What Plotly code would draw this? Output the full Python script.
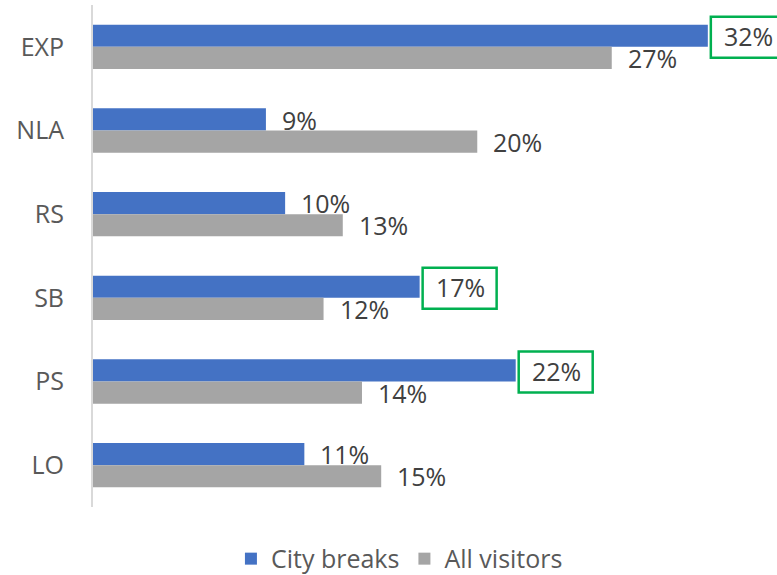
import plotly.graph_objects as go

categories = ["EXP", "NLA", "RS", "SB", "PS", "LO"]
city_breaks = [32, 9, 10, 17, 22, 11]
all_visitors = [27, 20, 13, 12, 14, 15]
highlighted = ["EXP", "SB", "PS"]

BLUE = "#4472C4"
GREY = "#A5A5A5"
FONT = "Open Sans"
LABEL_SIZE = 25

fig = go.Figure()
fig.add_trace(go.Bar(y=categories, x=city_breaks, orientation="h", name="City breaks",
                     marker=dict(color=BLUE, line=dict(width=0))))
fig.add_trace(go.Bar(y=categories, x=all_visitors, orientation="h", name="All visitors",
                     marker=dict(color=GREY, line=dict(width=0))))

# value labels just right of each bar end (blue sits above, grey below the category centre)
annotations = []
for cat, v in zip(categories, city_breaks):
    annotations.append(dict(x=v, y=cat, xref="x", yref="y", text=f"{v}%", showarrow=False,
                            xanchor="left", yanchor="middle", xshift=14, yshift=11,
                            font=dict(family=FONT, size=LABEL_SIZE, color="#404040")))
for cat, v in zip(categories, all_visitors):
    annotations.append(dict(x=v, y=cat, xref="x", yref="y", text=f"{v}%", showarrow=False,
                            xanchor="left", yanchor="middle", xshift=14, yshift=-11,
                            font=dict(family=FONT, size=LABEL_SIZE, color="#404040")))

# green frames around the standout city-break labels
for cat in highlighted:
    v = city_breaks[categories.index(cat)]
    fig.add_shape(
        type="rect", xref="x", yref="y",
        xsizemode="pixel", ysizemode="pixel",
        xanchor=v, yanchor=cat,
        x0=3, x1=77, y0=-11, y1=30,
        line=dict(color="#00B050", width=2.5), fillcolor="rgba(0,0,0,0)",
    )

fig.update_layout(
    width=777, height=575,
    margin=dict(l=93, r=0, t=5, b=68, autoexpand=False),
    paper_bgcolor="white", plot_bgcolor="white",
    barmode="group", bargap=0.47, bargroupgap=0,
    font=dict(family=FONT, color="#595959", size=LABEL_SIZE),
    annotations=annotations,
    showlegend=True,
    legend=dict(orientation="h", x=0.448, xanchor="center",
                yref="container", y=0.028, yanchor="middle",
                font=dict(family=FONT, size=LABEL_SIZE, color="#595959"),
                traceorder="normal", itemwidth=30),
    xaxis=dict(range=[0, 35.6], showgrid=False, zeroline=False, showticklabels=False,
               showline=False, fixedrange=True),
    yaxis=dict(autorange="reversed", showgrid=False, zeroline=False,
               showline=True, linecolor="#D9D9D9", linewidth=2,
               ticks="", ticklabelstandoff=22,
               tickfont=dict(family=FONT, size=LABEL_SIZE, color="#595959")),
)

fig.write_html("out.html")
